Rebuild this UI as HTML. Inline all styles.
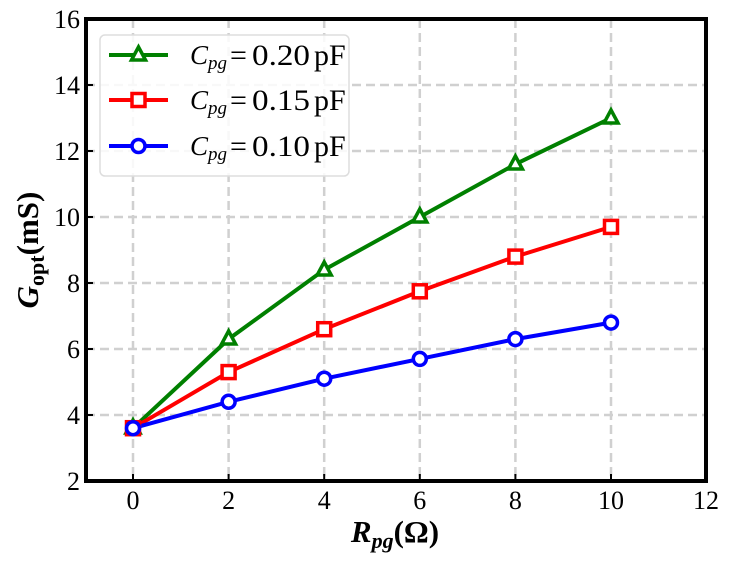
<!DOCTYPE html>
<html><head><meta charset="utf-8"><style>body{margin:0;background:#fff}svg{display:block}</style></head><body>
<svg width="729" height="562" xmlns="http://www.w3.org/2000/svg" font-family="Liberation Serif, serif">
<rect width="729" height="562" fill="#fff"/>
<g stroke="#d0d0d0" stroke-width="2.5" stroke-dasharray="9,5">
<line x1="133" y1="19" x2="133" y2="481"/><line x1="228.6" y1="19" x2="228.6" y2="481"/><line x1="324.2" y1="19" x2="324.2" y2="481"/><line x1="419.8" y1="19" x2="419.8" y2="481"/><line x1="515.4" y1="19" x2="515.4" y2="481"/><line x1="611" y1="19" x2="611" y2="481"/>
<line x1="86" y1="415" x2="706" y2="415"/><line x1="86" y1="349" x2="706" y2="349"/><line x1="86" y1="283" x2="706" y2="283"/><line x1="86" y1="217" x2="706" y2="217"/><line x1="86" y1="151" x2="706" y2="151"/><line x1="86" y1="85" x2="706" y2="85"/>
</g>
<g fill="none" stroke-width="4">
<polyline stroke="#008000" points="133,428.2 228.6,339.1 324.2,269.8 419.8,217 515.4,164.2 611,118"/>
<polyline stroke="#ff0000" points="133,428.2 228.6,372.1 324.2,329.2 419.8,291.3 515.4,256.6 611,226.9"/>
<polyline stroke="#0000ff" points="133,428.2 228.6,401.8 324.2,378.7 419.8,358.9 515.4,339.1 611,322.6"/>
</g>
<g fill="#fff" stroke="#008000" stroke-width="3.5">
<polygon points="133,420 126,433 140,433"/><polygon points="228.6,331 221.6,344 235.6,344"/><polygon points="324.2,262 317.2,275 331.2,275"/><polygon points="419.8,209 412.8,222 426.8,222"/><polygon points="515.4,156 508.4,169 522.4,169"/><polygon points="611,110 604,123 618,123"/>
</g>
<g fill="#fff" stroke="#ff0000" stroke-width="3.5">
<rect x="126.5" y="421.7" width="13" height="13"/><rect x="222.1" y="365.6" width="13" height="13"/><rect x="317.7" y="322.7" width="13" height="13"/><rect x="413.3" y="284.8" width="13" height="13"/><rect x="508.9" y="250.1" width="13" height="13"/><rect x="604.5" y="220.4" width="13" height="13"/>
</g>
<g fill="#fff" stroke="#0000ff" stroke-width="3.5">
<circle cx="133" cy="428.2" r="6.5"/><circle cx="228.6" cy="401.8" r="6.5"/><circle cx="324.2" cy="378.7" r="6.5"/><circle cx="419.8" cy="358.9" r="6.5"/><circle cx="515.4" cy="339.1" r="6.5"/><circle cx="611" cy="322.6" r="6.5"/>
</g>
<rect x="86" y="19" width="620" height="462" fill="none" stroke="#000" stroke-width="4"/>
<g stroke="#000" stroke-width="2">
<line x1="133" y1="481" x2="133" y2="474"/><line x1="228.6" y1="481" x2="228.6" y2="474"/><line x1="324.2" y1="481" x2="324.2" y2="474"/><line x1="419.8" y1="481" x2="419.8" y2="474"/><line x1="515.4" y1="481" x2="515.4" y2="474"/><line x1="611" y1="481" x2="611" y2="474"/>
<line x1="86" y1="415" x2="93" y2="415"/><line x1="86" y1="349" x2="93" y2="349"/><line x1="86" y1="283" x2="93" y2="283"/><line x1="86" y1="217" x2="93" y2="217"/><line x1="86" y1="151" x2="93" y2="151"/><line x1="86" y1="85" x2="93" y2="85"/>
</g>
<g font-size="26" text-anchor="middle" fill="#000">
<text x="133" y="509">0</text><text x="228.6" y="509">2</text><text x="324.2" y="509">4</text><text x="419.8" y="509">6</text><text x="515.4" y="509">8</text><text x="611" y="509">10</text><text x="706" y="509">12</text>
</g>
<g font-size="26" text-anchor="end" fill="#000">
<text x="80" y="490">2</text><text x="80" y="424">4</text><text x="80" y="358">6</text><text x="80" y="292">8</text><text x="80" y="226">10</text><text x="80" y="160">12</text><text x="80" y="94">14</text><text x="80" y="28">16</text>
</g>
<text x="395" y="542" font-size="31" font-weight="bold" text-anchor="middle"><tspan font-style="italic">R</tspan><tspan font-style="italic" font-size="22" dy="6">pg</tspan><tspan dy="-6">(Ω)</tspan></text>
<text transform="translate(38,250) rotate(-90)" font-size="31" font-weight="bold" text-anchor="middle"><tspan font-style="italic">G</tspan><tspan font-size="22" dy="6">opt</tspan><tspan dy="-6">(mS)</tspan></text>
<rect x="100" y="35" width="249" height="141" rx="5" fill="#fff" fill-opacity="0.85" stroke="#ddd" stroke-width="1.5"/>
<g stroke-width="4">
<line x1="109" y1="55" x2="168" y2="55" stroke="#008000"/><line x1="109" y1="100" x2="168" y2="100" stroke="#ff0000"/><line x1="109" y1="146" x2="168" y2="146" stroke="#0000ff"/>
</g>
<polygon points="138.5,47 131.5,60 145.5,60" fill="#fff" stroke="#008000" stroke-width="3.5"/>
<rect x="132" y="93.5" width="13" height="13" fill="#fff" stroke="#ff0000" stroke-width="3.5"/>
<circle cx="138.5" cy="146" r="6.5" fill="#fff" stroke="#0000ff" stroke-width="3.5"/>
<g font-size="27" fill="#000">
<text x="190" y="64" font-style="italic">C</text><text x="208" y="69" font-style="italic" font-size="19">pg</text><text x="230" y="65" font-size="30">=</text><text x="252" y="65" font-size="30" textLength="58" lengthAdjust="spacingAndGlyphs">0.20</text><text x="314" y="65" font-size="30">pF</text>
<text x="190" y="109" font-style="italic">C</text><text x="208" y="114" font-style="italic" font-size="19">pg</text><text x="230" y="110" font-size="30">=</text><text x="252" y="110" font-size="30" textLength="58" lengthAdjust="spacingAndGlyphs">0.15</text><text x="314" y="110" font-size="30">pF</text>
<text x="190" y="155" font-style="italic">C</text><text x="208" y="160" font-style="italic" font-size="19">pg</text><text x="230" y="156" font-size="30">=</text><text x="252" y="156" font-size="30" textLength="58" lengthAdjust="spacingAndGlyphs">0.10</text><text x="314" y="156" font-size="30">pF</text>
</g>
</svg>
</body></html>
